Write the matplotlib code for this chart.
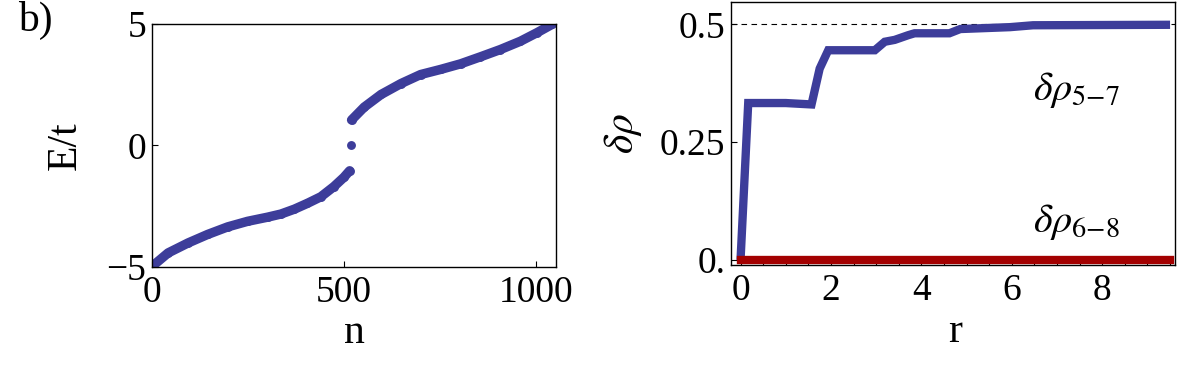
import matplotlib
matplotlib.use('Agg')
import matplotlib.pyplot as plt
from matplotlib.ticker import FixedLocator, MultipleLocator, FixedFormatter

plt.rcParams['font.family'] = ['Liberation Serif', 'DejaVu Serif']
plt.rcParams['mathtext.fontset'] = 'stix'

# ---- left panel data: spectrum E/t vs level index n ----
n_lower = [2, 42, 94, 145, 197, 249, 301, 336, 371, 405, 440, 474, 500, 515]
E_lower = [-4.95, -4.42, -4.01, -3.66, -3.35, -3.12, -2.95, -2.82, -2.62, -2.38, -2.11, -1.69, -1.31, -1.04]
n_zero = [518]
E_zero = [0.0]
n_upper = [520, 553, 597, 649, 700, 752, 804, 856, 908, 960, 1003, 1042]
E_upper = [1.05, 1.58, 2.10, 2.55, 2.92, 3.13, 3.36, 3.65, 3.95, 4.29, 4.64, 4.98]

# ---- right panel data: delta rho vs r ----
r_57 = [0, 0.17, 1.0, 1.57, 1.75, 1.94, 2.97, 3.19, 3.41, 3.71, 3.85, 4.62, 4.86, 5.96, 6.47, 9.5]
rho_57 = [0, 0.333, 0.333, 0.330, 0.406, 0.445, 0.445, 0.463, 0.467, 0.477, 0.481, 0.481, 0.490, 0.494, 0.498, 0.499]
r_68 = [0, 9.5]
rho_68 = [0.0, 0.0]
rho_ref = 0.5

left_xticks = [0, 500, 1000]
left_yticks = [-5, 0, 5]
right_xticks = [0, 2, 4, 6, 8]
right_yticks = [0, 0.25, 0.5]
right_yticklabels = ['0.', '0.25', '0.5']

blue = '#3d3d9a'
red = '#a30000'
tick_fs = 27
label_fs = 30

fig = plt.figure(figsize=(12, 3.76), dpi=100)

# ---------------- left ----------------
ax1 = fig.add_axes([0.1267, 0.2899, 0.3367, 0.6463])
for xs, ys in [(n_lower, E_lower), (n_zero, E_zero), (n_upper, E_upper)]:
    ax1.plot(xs, ys, '-o', color=blue, lw=6.8, ms=6.4, mew=0,
             solid_capstyle='round', solid_joinstyle='round')
ax1.set_xlim(0, 1053)
ax1.set_ylim(-5, 5)
ax1.xaxis.set_major_locator(FixedLocator(left_xticks))
ax1.yaxis.set_major_locator(FixedLocator(left_yticks))
ax1.set_xlabel('n', fontsize=label_fs)
ax1.set_ylabel('E/t', fontsize=label_fs)
ax1.xaxis.set_label_coords(0.5, -0.27)
ax1.xaxis.label.set_va('center')
ax1.yaxis.set_label_coords(-0.215, 0.5)
ax1.yaxis.label.set_va('center')

# ---------------- right ----------------
ax2 = fig.add_axes([0.6092, 0.2952, 0.3700, 0.7003])
ax2.axhline(rho_ref, color='black', lw=0.8, ls=(0, (5, 4)))
ax2.plot(r_57, rho_57, color=blue, lw=6.0, solid_joinstyle='miter', solid_capstyle='butt')
ax2.plot(r_68, rho_68, color=red, lw=6.0, solid_capstyle='projecting')
ax2.set_xlim(-0.21, 9.61)
ax2.set_ylim(-0.0106, 0.548)
ax2.xaxis.set_major_locator(FixedLocator(right_xticks))
ax2.xaxis.set_minor_locator(MultipleLocator(0.5))
ax2.yaxis.set_major_locator(FixedLocator(right_yticks))
ax2.yaxis.set_major_formatter(FixedFormatter(right_yticklabels))
ax2.set_xlabel('r', fontsize=label_fs)
ax2.set_ylabel(r'$\delta\rho$', fontsize=label_fs)
ax2.xaxis.set_label_coords(0.505, -0.255)
ax2.xaxis.label.set_va('center')
ax2.yaxis.set_label_coords(-0.243, 0.5)
ax2.yaxis.label.set_va('center')
ax2.text(0.68, 0.665, r'$\delta\rho_{5{-}7}$', transform=ax2.transAxes,
         fontsize=29, ha='left', va='center')
ax2.text(0.68, 0.163, r'$\delta\rho_{6{-}8}$', transform=ax2.transAxes,
         fontsize=29, ha='left', va='center')

for ax in (ax1, ax2):
    ax.tick_params(which='both', direction='in', labelsize=tick_fs, width=0.8)
    ax.tick_params(which='major', length=4)
    ax.tick_params(which='minor', length=3)
    ax.tick_params(axis='x', pad=6)
    ax.tick_params(axis='y', pad=4)
    for s in ax.spines.values():
        s.set_linewidth(1.0)

fig.text(0.015, 0.945, 'b)', fontsize=label_fs, ha='left', va='center')

fig.savefig('out.png', dpi=100)
